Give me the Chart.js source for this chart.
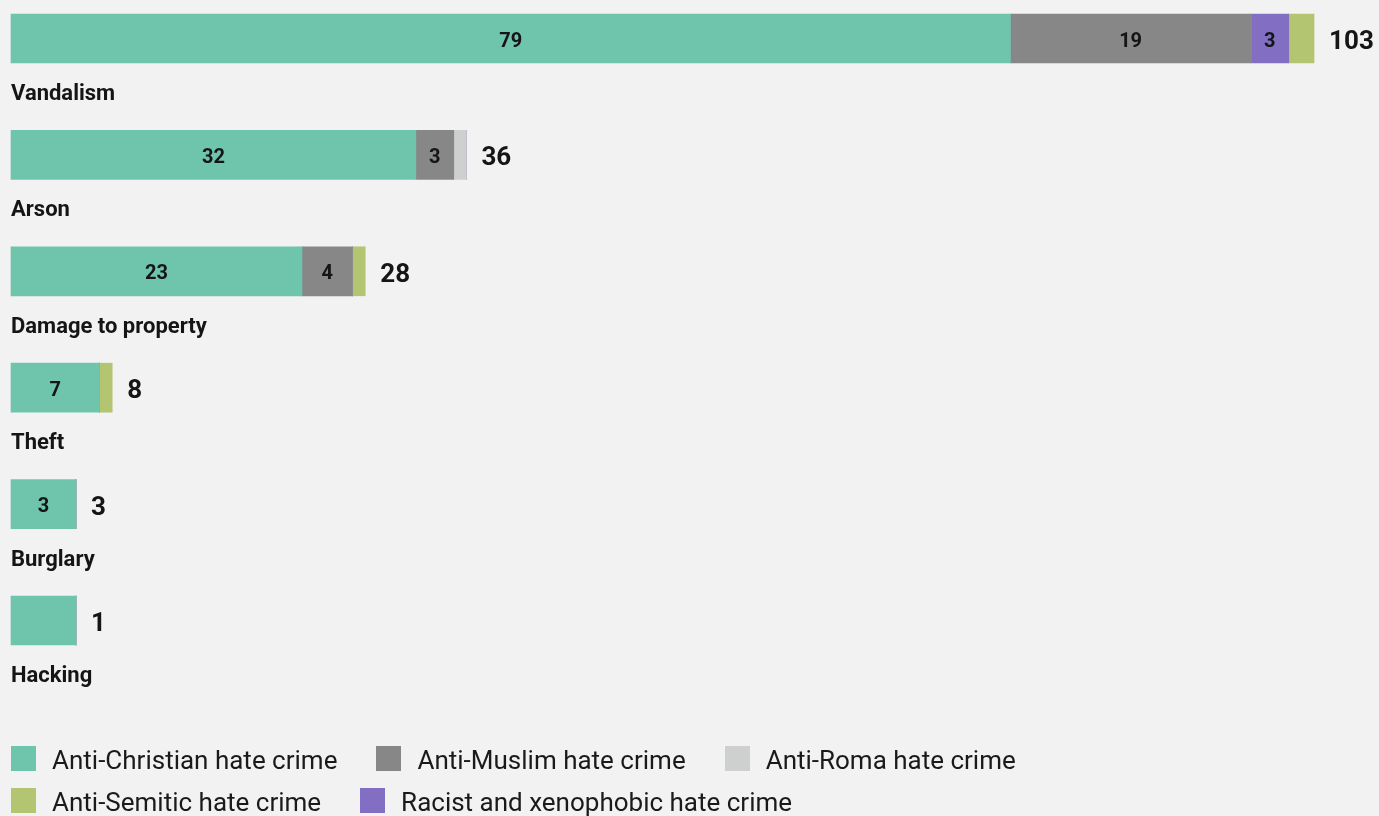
<!DOCTYPE html>
<html>
<head>
<meta charset="utf-8">
<script src="https://cdn.jsdelivr.net/npm/chart.js@4.4.1/dist/chart.umd.min.js"></script>
<style>
  html, body { margin: 0; padding: 0; background: #f2f2f2; }
  #wrap { position: relative; width: 1379px; height: 816px; overflow: hidden; }
  #c { position: absolute; left: 0; top: 0; }
  #legend { position: absolute; left: 11px; top: 737px; width: 1300px; display: flex; flex-wrap: wrap;
            font-family: Roboto, sans-serif; font-size: 26px; color: #1a1a1a; }
  .item { display: flex; align-items: center; height: 42px; margin-right: 39px; white-space: nowrap; }
  .box { width: 25px; height: 25px; margin-right: 16px; flex: none; }
  .txt { padding-top: 3px; }
</style>
</head>
<body>
<div id="wrap">
  <canvas id="c" width="1379" height="816"></canvas>
  <div id="legend"></div>
</div>
<script>
// ---- data ----
const categories = ['Vandalism', 'Arson', 'Damage to property', 'Theft', 'Burglary', 'Hacking'];
const antiChristian = [79, 32, 23, 7, 3, 1];
const antiMuslim    = [19, 3, 4, 0, 0, 0];
const antiRoma      = [0, 1, 0, 0, 0, 0];
const racistXeno    = [3, 0, 0, 0, 0, 0];
const antiSemitic   = [2, 0, 1, 1, 0, 0];

const seriesLabels = ['Anti-Christian hate crime', 'Anti-Muslim hate crime', 'Anti-Roma hate crime',
                      'Racist and xenophobic hate crime', 'Anti-Semitic hate crime'];
const seriesColors = ['#6fc4ac', '#878787', '#cdd0cf', '#826fc4', '#b4c571'];
const legendOrder  = [0, 1, 2, 4, 3];

const seriesData = [antiChristian, antiMuslim, antiRoma, racistXeno, antiSemitic];
const totals = categories.map((_, i) => seriesData.reduce((s, arr) => s + arr[i], 0));

const FONT = 'Roboto, sans-serif';
const TEXT = '#151515';

const labelPlugin = {
  id: 'labelPlugin',
  afterDatasetsDraw(chart) {
    const ctx = chart.ctx;
    const area = chart.chartArea;
    ctx.save();
    // inner segment labels
    ctx.fillStyle = TEXT;
    ctx.textAlign = 'center';
    ctx.textBaseline = 'middle';
    ctx.font = 'bold 20px ' + FONT;
    chart.data.datasets.forEach((ds, d) => {
      const meta = chart.getDatasetMeta(d);
      meta.data.forEach((el, i) => {
        const v = ds.data[i];
        if (v >= 3) {
          ctx.fillText(String(v), (el.x + el.base) / 2, el.y + 3);
        }
      });
    });
    // totals and category labels
    categories.forEach((cat, i) => {
      let end = area.left;
      let y = 0;
      chart.data.datasets.forEach((ds, d) => {
        const el = chart.getDatasetMeta(d).data[i];
        y = el.y;
        if (ds.data[i] > 0) end = Math.max(end, el.x);
      });
      ctx.textAlign = 'left';
      ctx.textBaseline = 'middle';
      ctx.font = 'bold 26px ' + FONT;
      ctx.fillText(String(totals[i]), end + 15, y + 4);
      ctx.textBaseline = 'alphabetic';
      ctx.font = 'bold 22px ' + FONT;
      ctx.fillText(cat, area.left, y + 61.5);
    });
    ctx.restore();
  }
};

const chart = new Chart(document.getElementById('c'), {
  type: 'bar',
  data: {
    labels: categories,
    datasets: seriesData.map((arr, k) => ({
      label: seriesLabels[k],
      data: arr,
      backgroundColor: seriesColors[k],
      borderWidth: 0,
      barThickness: 49,
      clip: false,
      minBarLength: k === 0 ? 65 : 0
    }))
  },
  options: {
    indexAxis: 'y',
    responsive: false,
    animation: false,
    devicePixelRatio: 1,
    layout: { padding: { left: 11, right: 27, top: 38.5, bottom: 195.5 } },
    scales: {
      x: { type: 'linear', stacked: true, min: 0, max: 106, display: false },
      y: { type: 'category', stacked: true, display: false, offset: false }
    },
    plugins: {
      legend: { display: false },
      tooltip: { enabled: false }
    }
  },
  plugins: [labelPlugin]
});

// HTML legend built from the series
const legendEl = document.getElementById('legend');
legendOrder.forEach(k => {
  const item = document.createElement('div');
  item.className = 'item';
  const box = document.createElement('span');
  box.className = 'box';
  box.style.background = seriesColors[k];
  const txt = document.createElement('span');
  txt.className = 'txt';
  txt.textContent = seriesLabels[k];
  item.appendChild(box);
  item.appendChild(txt);
  legendEl.appendChild(item);
});
</script>
</body>
</html>
